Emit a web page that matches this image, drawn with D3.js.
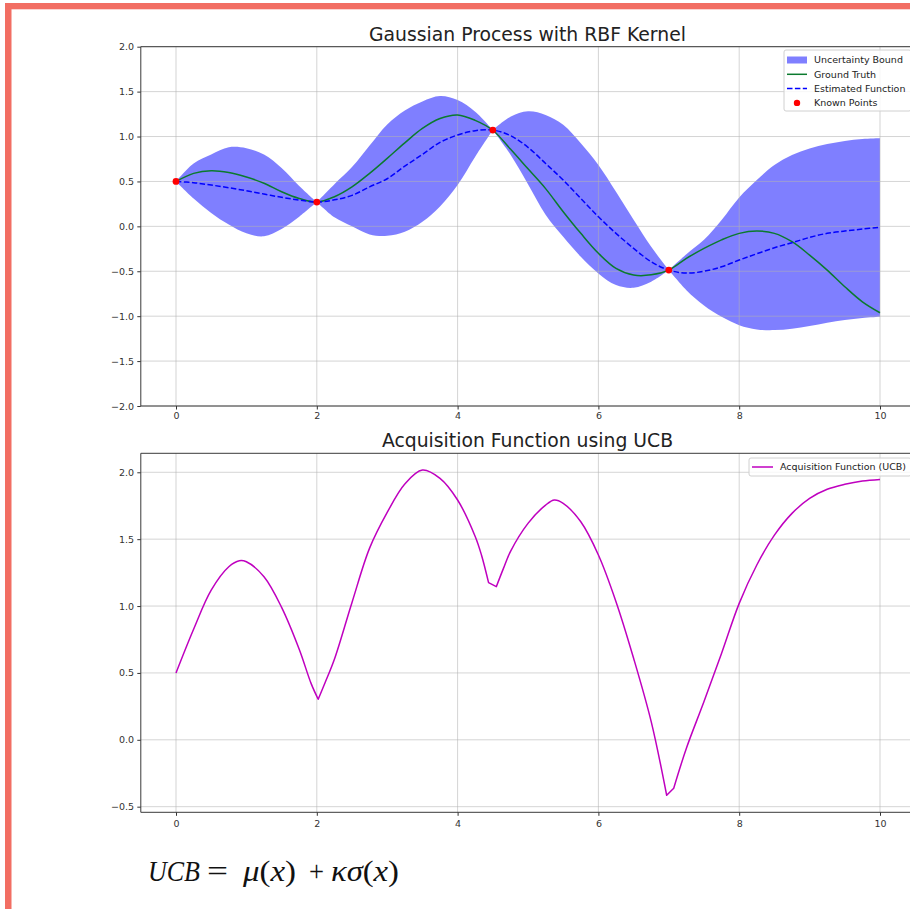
<!DOCTYPE html>
<html>
<head>
<meta charset="utf-8">
<script src="https://cdn.jsdelivr.net/npm/d3@7/dist/d3.min.js"></script>
<style>
  html, body { margin: 0; padding: 0; background: #fff; }
  svg { display: block; font-family: "DejaVu Sans", sans-serif; }
</style>
</head>
<body>
<div id="chart"></div>
<script>
// ── data
const gpX = [0, 0.25, 0.5, 0.75, 1, 1.25, 1.5, 1.75, 2, 2.25, 2.5, 2.75, 3, 3.25, 3.5, 3.75,
  4, 4.25, 4.5, 4.75, 5, 5.25, 5.5, 5.75, 6, 6.25, 6.5, 6.75, 7, 7.25, 7.5, 7.75,
  8, 8.25, 8.5, 8.75, 9, 9.25, 9.5, 9.75, 10];
const groundTruth = [0.50, 0.59, 0.62, 0.60, 0.55, 0.48, 0.385, 0.31, 0.27, 0.33, 0.44, 0.59,
  0.757, 0.93, 1.09, 1.20, 1.24, 1.18, 1.07, 0.86, 0.64, 0.42, 0.163, -0.078, -0.30, -0.468,
  -0.542, -0.54, -0.487, -0.357, -0.245, -0.15, -0.078, -0.052, -0.078, -0.171, -0.32, -0.487,
  -0.672, -0.84, -0.962];
const estimated = [0.50, 0.486, 0.46, 0.43, 0.396, 0.36, 0.323, 0.293, 0.27, 0.295, 0.345, 0.44,
  0.53, 0.67, 0.80, 0.935, 1.017, 1.065, 1.072, 1.01, 0.88, 0.70, 0.515, 0.31, 0.107, -0.078,
  -0.245, -0.394, -0.487, -0.52, -0.50, -0.45, -0.375, -0.305, -0.238, -0.182, -0.123, -0.078,
  -0.052, -0.03, -0.011];
const upperBound = [0.50, 0.70, 0.80, 0.88, 0.87, 0.80, 0.65, 0.45, 0.27, 0.47, 0.66, 0.90,
  1.135, 1.29, 1.39, 1.45, 1.406, 1.276, 1.072, 1.22, 1.28, 1.24, 1.13, 0.924, 0.683, 0.385,
  0.074, -0.227, -0.487, -0.31, -0.15, 0.07, 0.32, 0.515, 0.683, 0.794, 0.868, 0.916, 0.95,
  0.972, 0.98];
const lowerBound = [0.50, 0.31, 0.15, 0.02, -0.078, -0.11, -0.03, 0.107, 0.27, 0.10, 0.0, -0.09,
  -0.105, -0.06, 0.05, 0.22, 0.46, 0.775, 1.072, 0.80, 0.47, 0.13, -0.116, -0.339, -0.524,
  -0.654, -0.684, -0.617, -0.487, -0.71, -0.88, -1.007, -1.10, -1.147, -1.155, -1.14, -1.11,
  -1.073, -1.043, -1.02, -1.007];
const knownX = [0, 2, 4.5, 7];
const knownY = [0.5, 0.27, 1.072, -0.487];

const acqX = [0, 0.25, 0.5, 0.75, 0.9, 1, 1.25, 1.5, 1.75, 1.92, 2.02, 2.12, 2.25, 2.5, 2.75,
  3, 3.25, 3.5, 3.75, 4, 4.25, 4.34, 4.44, 4.55, 4.65, 4.75, 5, 5.25, 5.375, 5.5, 5.75, 6,
  6.25, 6.5, 6.75, 6.97, 7.07, 7.25, 7.5, 7.75, 8, 8.25, 8.5, 8.75, 9, 9.25, 9.5, 9.75, 10];
const acqY = [0.50, 0.827, 1.119, 1.294, 1.339, 1.331, 1.219, 0.99, 0.677, 0.42, 0.303, 0.43,
  0.602, 1.027, 1.433, 1.70, 1.913, 2.017, 1.955, 1.793, 1.52, 1.38, 1.175, 1.145, 1.28, 1.407,
  1.618, 1.755, 1.793, 1.768, 1.63, 1.382, 1.033, 0.61, 0.136, -0.415, -0.362, -0.063, 0.286,
  0.647, 1.02, 1.307, 1.53, 1.693, 1.805, 1.873, 1.91, 1.935, 1.947];
const acqKinks = [2.02, 4.44, 4.55, 6.97, 7.07];

const xTicks = [0, 2, 4, 6, 8, 10];
const yTicksTop = [-2, -1.5, -1, -0.5, 0, 0.5, 1, 1.5, 2];
const yTicksBottom = [-0.5, 0, 0.5, 1, 1.5, 2];

const topLegend = ['Uncertainty Bound', 'Ground Truth', 'Estimated Function', 'Known Points'];

// ── layout
const W = 910, H = 909;
const bandColor = 'rgba(0,0,255,0.5)';
const truthColor = '#0b7a2e';
const tickColor = '#333';
const smooth = d3.curveCatmullRom.alpha(0.5);

const svg = d3.select('#chart').append('svg')
  .attr('width', W).attr('height', H);

// salmon frame (top + left strips visible in the crop)
svg.append('rect').attr('x', 5).attr('y', 3).attr('width', W - 5).attr('height', 6.3).attr('fill', '#f26e63');
svg.append('rect').attr('x', 5).attr('y', 3).attr('width', 6.5).attr('height', H - 3).attr('fill', '#f26e63');

const xScale = d3.scaleLinear().domain([-0.5, 10.5]).range([140.8, 915.2]);
const yTop = d3.scaleLinear().domain([-2, 2]).range([406, 46.7]);
const yBot = d3.scaleLinear().domain([-0.542, 2.142]).range([812.3, 453.3]);

// grid + axes for one panel
function drawPanel(y, yTicks, xPad) {
  const [y0, y1] = y.range();

  const grid = svg.append('g').attr('class', 'grid');
  grid.selectAll('.vg').data(xTicks).enter().append('line')
    .attr('x1', d => xScale(d)).attr('x2', d => xScale(d))
    .attr('y1', y1).attr('y2', y0);
  grid.selectAll('.hg').data(yTicks).enter().append('line')
    .attr('x1', 140.8).attr('x2', 915.2)
    .attr('y1', d => y(d)).attr('y2', d => y(d));
  grid.selectAll('line')
    .attr('stroke', '#b0b0b0').attr('stroke-opacity', 0.55).attr('stroke-width', 1);

  // x axis
  svg.append('g')
    .attr('transform', `translate(0,${y0})`)
    .call(d3.axisBottom(xScale).tickValues(xTicks).tickSize(3.5).tickSizeOuter(0)
      .tickPadding(xPad).tickFormat(d3.format('d')))
    .call(a => a.select('.domain').remove())
    .call(a => a.selectAll('.tick line').attr('stroke', tickColor))
    .call(a => a.selectAll('.tick text').attr('fill', tickColor)
      .attr('font-size', '9.5px').attr('font-family', '"DejaVu Sans", sans-serif'));

  // y axis
  svg.append('g')
    .attr('transform', 'translate(140.8,0)')
    .call(d3.axisLeft(y).tickValues(yTicks).tickSize(3.5).tickSizeOuter(0)
      .tickPadding(3.2).tickFormat(d3.format('.1f')))
    .call(a => a.select('.domain').remove())
    .call(a => a.selectAll('.tick line').attr('stroke', tickColor))
    .call(a => a.selectAll('.tick text').attr('fill', tickColor)
      .attr('font-size', '9.5px').attr('font-family', '"DejaVu Sans", sans-serif'));
}

// splits a series at the break x-values so kinks there stay sharp
function piecewise(points, breaks) {
  const pieces = [];
  let cur = [];
  points.forEach(p => {
    cur.push(p);
    if (breaks.includes(p.x)) { pieces.push(cur); cur = [p]; }
  });
  if (cur.length > 1) pieces.push(cur);
  return pieces;
}

function spines(y) {
  const [y0, y1] = y.range();
  svg.append('path')
    .attr('d', `M915.2,${y1}H140.8V${y0}H915.2`)
    .attr('fill', 'none').attr('stroke', '#3a3a3a').attr('stroke-width', 1);
}

// ── top panel: GP with RBF kernel
const gpData = gpX.map((x, i) => ({ x, truth: groundTruth[i], mu: estimated[i], hi: upperBound[i], lo: lowerBound[i] }));

const band = d3.area()
  .x(d => xScale(d.x)).y0(d => yTop(d.lo)).y1(d => yTop(d.hi))
  .curve(smooth);

const bandGroup = svg.append('g');
piecewise(gpData, knownX.slice(1)).forEach(seg => {
  bandGroup.append('path').attr('d', band(seg)).attr('fill', bandColor);
});

drawPanel(yTop, yTicksTop, 3.1);

svg.append('path')
  .attr('d', d3.line().x(d => xScale(d.x)).y(d => yTop(d.truth)).curve(smooth)(gpData))
  .attr('fill', 'none').attr('stroke', truthColor).attr('stroke-width', 1.5);

svg.append('path')
  .attr('d', d3.line().x(d => xScale(d.x)).y(d => yTop(d.mu)).curve(smooth)(gpData))
  .attr('fill', 'none').attr('stroke', '#0000ff').attr('stroke-width', 1.5)
  .attr('stroke-dasharray', '5.5,2.4');

svg.append('g').selectAll('circle')
  .data(knownX).enter().append('circle')
    .attr('cx', d => xScale(d))
    .attr('cy', (d, i) => yTop(knownY[i]))
    .attr('r', 3.4)
    .attr('fill', '#ff0000');

spines(yTop);

svg.append('text')
  .attr('x', 527.5).attr('y', 41)
  .attr('text-anchor', 'middle')
  .attr('font-size', '18.8px').attr('fill', '#222')
  .text('Gaussian Process with RBF Kernel');

// legend (top)
const lg = svg.append('g').attr('transform', 'translate(784,50)');
lg.append('rect')
  .attr('width', 127).attr('height', 61).attr('rx', 2)
  .attr('fill', 'rgba(255,255,255,0.8)').attr('stroke', '#d0d0d0');
topLegend.forEach((label, i) => {
  const cy = 10 + i * 14.3;
  const row = lg.append('g');
  if (i === 0) {
    row.append('rect').attr('x', 3).attr('y', cy - 3.5).attr('width', 20).attr('height', 7).attr('fill', bandColor);
  } else if (i === 1) {
    row.append('line').attr('x1', 3).attr('x2', 23).attr('y1', cy).attr('y2', cy)
      .attr('stroke', truthColor).attr('stroke-width', 1.5);
  } else if (i === 2) {
    row.append('line').attr('x1', 3).attr('x2', 23).attr('y1', cy).attr('y2', cy)
      .attr('stroke', '#0000ff').attr('stroke-width', 1.5).attr('stroke-dasharray', '5.5,2.4');
  } else {
    row.append('circle').attr('cx', 13).attr('cy', cy).attr('r', 3.2).attr('fill', '#ff0000');
  }
  row.append('text')
    .attr('x', 30).attr('y', cy + 3.4)
    .attr('font-size', '9.5px').attr('fill', '#222')
    .text(label);
});

// ── bottom panel: acquisition function (UCB)
drawPanel(yBot, yTicksBottom, 4.5);

const acqData = acqX.map((x, i) => ({ x, y: acqY[i] }));
const acqLine = d3.line().x(d => xScale(d.x)).y(d => yBot(d.y)).curve(smooth);
const acqPath = piecewise(acqData, acqKinks)
  .map((seg, i) => { const d = acqLine(seg); return i === 0 ? d : 'L' + d.slice(1); })
  .join('');

svg.append('path')
  .attr('d', acqPath)
  .attr('fill', 'none').attr('stroke', '#bf00bf').attr('stroke-width', 1.5)
  .attr('stroke-linejoin', 'round');

spines(yBot);

svg.append('text')
  .attr('x', 527.5).attr('y', 446.5)
  .attr('text-anchor', 'middle')
  .attr('font-size', '18.8px').attr('fill', '#222')
  .text('Acquisition Function using UCB');

const lb = svg.append('g').attr('transform', 'translate(749,458)');
lb.append('rect')
  .attr('width', 162).attr('height', 18).attr('rx', 2)
  .attr('fill', 'rgba(255,255,255,0.8)').attr('stroke', '#d0d0d0');
lb.append('line').attr('x1', 3).attr('x2', 24).attr('y1', 9).attr('y2', 9)
  .attr('stroke', '#bf00bf').attr('stroke-width', 1.5);
lb.append('text')
  .attr('x', 31).attr('y', 12.4)
  .attr('font-size', '9.5px').attr('fill', '#222')
  .text('Acquisition Function (UCB)');

// ── formula under the plots: each glyph group gets its own start and width
const formulaParts = [
  { parts: [['UCB', true]], x: 148, w: 52 },
  { parts: [['=', false]], x: 207, w: 21 },
  { parts: [['μ', true], ['(', false], ['x', true], [')', false]], x: 243, w: 53 },
  { parts: [['+', false]], x: 309, w: 15 },
  { parts: [['κσ', true], ['(', false], ['x', true], [')', false]], x: 331, w: 68 }
];
const formula = svg.append('g')
  .attr('font-family', '"Liberation Serif", serif')
  .attr('font-size', '30px').attr('fill', '#111');
formulaParts.forEach(grp => {
  const t = formula.append('text')
    .attr('x', grp.x).attr('y', 881)
    .attr('textLength', grp.w).attr('lengthAdjust', 'spacingAndGlyphs');
  grp.parts.forEach(([s, it]) => {
    t.append('tspan').attr('font-style', it ? 'italic' : 'normal').text(s);
  });
});
</script>
</body>
</html>
